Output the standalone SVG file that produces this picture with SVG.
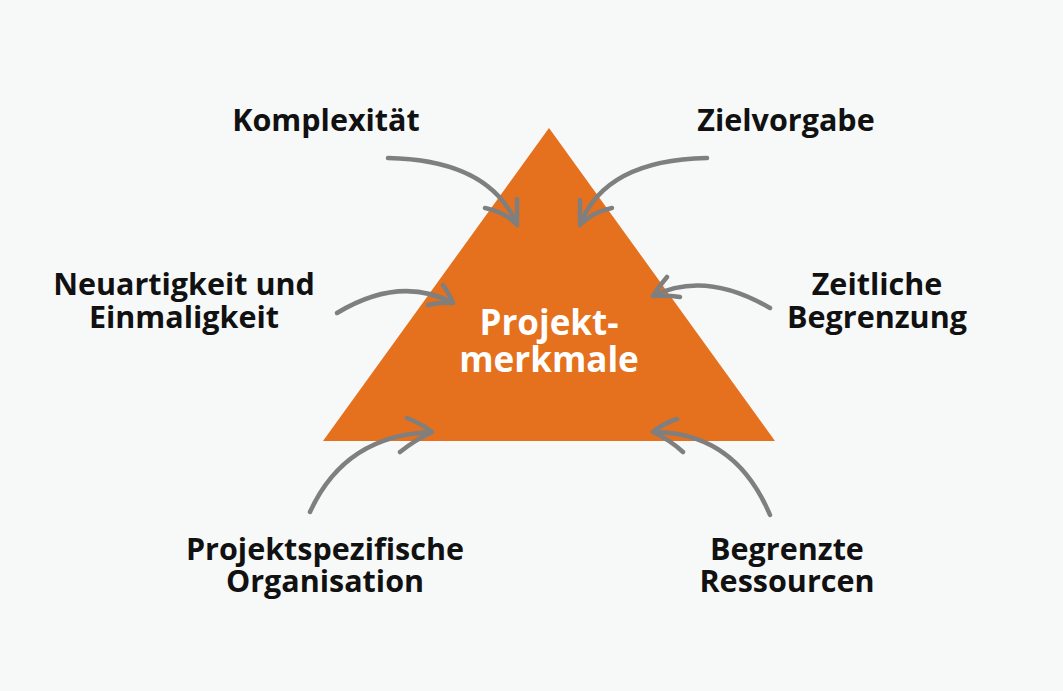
<svg xmlns="http://www.w3.org/2000/svg" width="1063" height="691" viewBox="0 0 1063 691">
<style>
.lbl{font-family:"Open Sans","Noto Sans","Liberation Sans",sans-serif;font-weight:700;font-size:30.5px;fill:#111;text-anchor:middle}
.ctr{font-family:"Open Sans","Noto Sans","Liberation Sans",sans-serif;font-weight:700;font-size:35px;fill:#fff;text-anchor:middle}
.arr{fill:none;stroke:#7f7f7f;stroke-width:4.5;stroke-linecap:round;stroke-linejoin:round}
</style>
<rect width="1063" height="691" fill="#f7f9f9"/>
<g id="center">
<polygon points="549,128 775,441 323,441" fill="#e5701d"/>
<text class="ctr" x="549" y="335">Projekt-</text>
<text class="ctr" x="549" y="372">merkmale</text>
</g>
<g id="komplexitaet"><text class="lbl" x="326" y="131">Komplexität</text></g>
<g id="zielvorgabe"><text class="lbl" x="786" y="131">Zielvorgabe</text></g>
<g id="neuartigkeit"><text class="lbl" x="184" y="295">Neuartigkeit und</text><text class="lbl" x="184" y="328">Einmaligkeit</text></g>
<g id="zeitliche"><text class="lbl" x="877" y="295">Zeitliche</text><text class="lbl" x="877" y="328">Begrenzung</text></g>
<g id="organisation"><text class="lbl" x="325" y="560">Projektspezifische</text><text class="lbl" x="325" y="592">Organisation</text></g>
<g id="ressourcen"><text class="lbl" x="787" y="560">Begrenzte</text><text class="lbl" x="787" y="592">Ressourcen</text></g>
<g id="connectors" class="arr">
<path d="M388,158 Q490,160 517,225 M485,208 Q505,212 517,225 L517,199"/>
<path d="M707,158 Q605,160 580,225 M612,208 Q592,212 580,225 L580,200"/>
<path d="M337,313 Q400,275 453,303 M443,285 Q450,295 453,303 Q440,302 428,305"/>
<path d="M770,308 Q705,270 653,296 M667,277 Q658,288 653,296 Q668,295 680,297"/>
<path d="M310,512 Q345,435 432,432 M407,418 Q422,424 432,432 Q415,440 400,452"/>
<path d="M770,515 Q735,432 653,432 M677,419 Q662,424 653,432 Q670,440 683,452"/>
</g>
</svg>
